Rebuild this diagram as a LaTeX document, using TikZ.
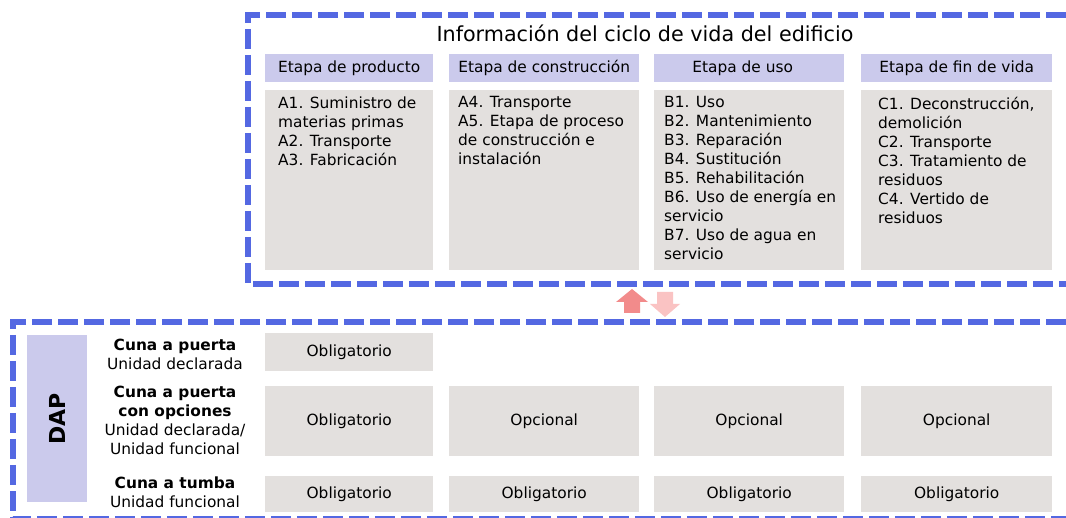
\documentclass[tikz,border=0pt]{standalone}
\usepackage{fontspec}
\setmainfont{DejaVu Sans}
\definecolor{dashblue}{RGB}{84,104,226}
\definecolor{lav}{RGB}{203,202,236}
\definecolor{cellgray}{RGB}{227,224,222}
\definecolor{arrup}{RGB}{242,139,139}
\definecolor{arrdown}{RGB}{250,195,195}
\newcommand\bfnt{\fontsize{15.4}{19}\selectfont}
\begin{document}
\begin{tikzpicture}[x=1pt,y=-1pt,
  frame/.style={draw=dashblue, line width=5.5pt, dash pattern=on 20pt off 6pt},
  head/.style={fill=lav, inner sep=0, minimum height=28pt, anchor=north west, font=\bfnt},
  cell/.style={fill=cellgray, inner sep=0, anchor=north west, font=\bfnt},
  body/.style={font=\bfnt, align=left, inner sep=0, anchor=north west},
  rowlabel/.style={font=\bfnt, align=center, inner sep=0}]
\useasboundingbox (0,0) rectangle (1066,518);
% frames (open to the right, cut by the picture edge)
\coordinate (uTL) at (248,15);
\coordinate (uBL) at (248,284);
\coordinate (uTR) at (1066,15);
\coordinate (uBR) at (1066,284);
\draw[frame] (uTR) -- (uTL) -- (uBL) -- (uBR);
\coordinate (lTL) at (13,322);
\coordinate (lBL) at (13,519);
\coordinate (lTR) at (1066,322);
\coordinate (lBR) at (1066,519);
\draw[frame] (lTR) -- (lTL) -- (lBL) -- (lBR);
% title
\node[font=\fontsize{20.7}{24}\selectfont, inner sep=0] (title) at (645,33) {Información del ciclo de vida del edificio};
% headers
\node[head, minimum width=168pt] (h1) at (265,54) {Etapa de producto};
\node[head, minimum width=190pt] (h2) at (449,54) {Etapa de construcción};
\node[head, minimum width=190pt] (h3) at (654,54) {\hspace*{0pt}Etapa de uso\hspace*{13pt}};
\node[head, minimum width=191pt] (h4) at (861,54) {Etapa de fin de vida};
% content cells
\node[cell, minimum width=168pt, minimum height=180pt] (c1) at (265,90) {};
\node[cell, minimum width=190pt, minimum height=180pt] (c2) at (449,90) {};
\node[cell, minimum width=190pt, minimum height=180pt] (c3) at (654,90) {};
\node[cell, minimum width=191pt, minimum height=180pt] (c4) at (861,90) {};
\node[body] (t1) at (278,97) {A1. Suministro de\\materias primas\\A2. Transporte\\A3. Fabricación};
\node[body] (t2) at (458,96) {A4. Transporte\\A5. Etapa de proceso\\de construcción e\\instalación};
\node[body] (t3) at (664,96) {B1. Uso\\B2. Mantenimiento\\B3. Reparación\\B4. Sustitución\\B5. Rehabilitación\\B6. Uso de energía en\\servicio\\B7. Uso de agua en\\servicio};
\node[body] (t4) at (878,97) {C1. Deconstrucción,\\demolición\\C2. Transporte\\C3. Tratamiento de\\residuos\\C4. Vertido de\\residuos};
% arrows between frames
\fill[arrup] (624,313) -- (624,302) -- (616,302) -- (632,289) -- (648,302) -- (640,302) -- (640,313) -- cycle;
\fill[arrdown] (657,292) -- (673,292) -- (673,304) -- (680,304) -- (665,317) -- (650,304) -- (657,304) -- cycle;
% DAP
\node[fill=lav, inner sep=0, minimum width=60pt, minimum height=167pt, anchor=north west] (dap) at (27,335) {};
\node[font=\fontsize{22}{26}\selectfont\bfseries, rotate=90, inner sep=0] (daptext) at (dap.center) {DAP};
% row labels
\node[rowlabel] (r1) at (175,354) {\textbf{Cuna a puerta}\\Unidad declarada};
\node[rowlabel] (r2) at (175,420) {\textbf{Cuna a puerta}\\\textbf{con opciones}\\Unidad declarada/\\Unidad funcional};
\node[rowlabel] (r3) at (175,492) {\textbf{Cuna a tumba}\\Unidad funcional};
% row 1
\node[cell, minimum width=168pt, minimum height=38pt] (o11) at (265,333) {Obligatorio};
% row 2
\node[cell, minimum width=168pt, minimum height=70pt] (o21) at (265,386) {Obligatorio};
\node[cell, minimum width=190pt, minimum height=70pt] (o22) at (449,386) {Opcional};
\node[cell, minimum width=190pt, minimum height=70pt] (o23) at (654,386) {Opcional};
\node[cell, minimum width=191pt, minimum height=70pt] (o24) at (861,386) {Opcional};
% row 3
\node[cell, minimum width=168pt, minimum height=36pt] (o31) at (265,476) {Obligatorio};
\node[cell, minimum width=190pt, minimum height=36pt] (o32) at (449,476) {Obligatorio};
\node[cell, minimum width=190pt, minimum height=36pt] (o33) at (654,476) {Obligatorio};
\node[cell, minimum width=191pt, minimum height=36pt] (o34) at (861,476) {Obligatorio};
\end{tikzpicture}
\end{document}
